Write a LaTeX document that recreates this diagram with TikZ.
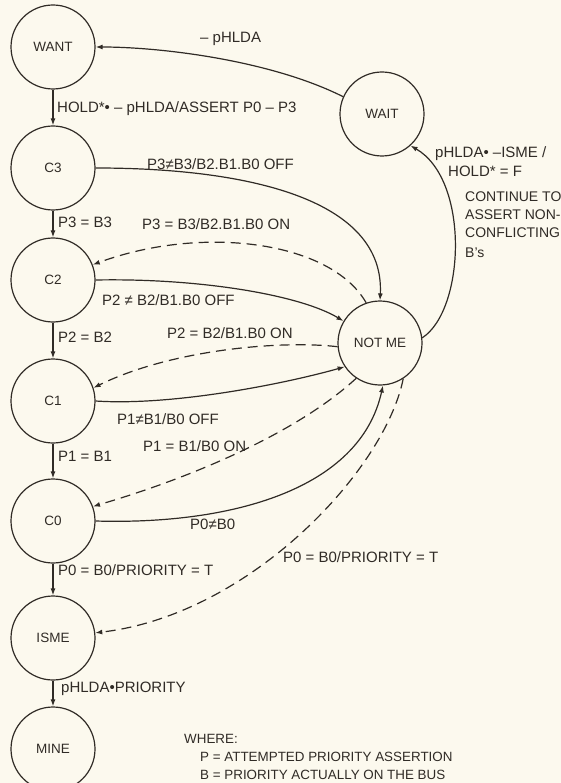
\documentclass[tikz,border=0pt]{standalone}
\usepackage{fontspec}
\setmainfont{Liberation Sans}
\usetikzlibrary{arrows.meta}
\definecolor{bg}{RGB}{252,249,238}
\definecolor{ink}{RGB}{48,43,38}
\begin{document}
\begin{tikzpicture}[x=1pt,y=-1pt,
  state/.style={circle,draw=ink,line width=1.2pt,minimum size=84pt,inner sep=0pt,
    font=\fontsize{13.5}{15}\selectfont,text=ink},
  lbl/.style={inner sep=0pt,anchor=west,text height=10.7pt,text depth=0pt,
    font=\fontsize{15}{17}\selectfont,text=ink},
  sm/.style={lbl,text height=10pt,font=\fontsize{14}{16}\selectfont},
  leg/.style={lbl,text height=9.6pt,font=\fontsize{13.4}{15}\selectfont},
  edge/.style={draw=ink,line width=1.2pt,-{Latex[length=7pt,width=5pt]}},
  dedge/.style={edge,dash pattern=on 10pt off 6pt}]
\fill[bg] (0,0) rectangle (561,783);
\useasboundingbox (0,0) rectangle (561,783);
% states
\node[state] (want) at (53,47) {WANT};
\node[state] (c3) at (53,168) {C3};
\node[state] (c2) at (53,280) {C2};
\node[state] (c1) at (53,401) {C1};
\node[state] (c0) at (53,521) {C0};
\node[state] (isme) at (53,638) {ISME};
\node[state] (mine) at (53,749) {MINE};
\node[state] (wait) at (382,114) {WAIT};
\node[state] (notme) at (380,343) {NOT ME};
% vertical chain
\draw[edge] (want) -- (c3);
\draw[edge] (c3) -- (c2);
\draw[edge] (c2) -- (c1);
\draw[edge] (c1) -- (c0);
\draw[edge] (c0) -- (isme);
\draw[edge] (isme) -- (mine);
% WAIT loop
\draw[edge] (wait.156) .. controls (270,60) and (160,47) .. (want.east);
\draw[edge] (notme.7) .. controls (465,310) and (470,180) .. (wait.-48);
% to NOT ME (solid) and back (dashed)
\draw[edge] (c3.east) .. controls (250,168) and (385,200) .. (notme.north);
\draw[dedge] (notme.109) .. controls (330,240) and (200,225) .. (c2.21);
\draw[edge] (c2.east) .. controls (200,278) and (300,295) .. (notme.149);
\draw[dedge] (notme.185) .. controls (280,340) and (170,350) .. (c1.18);
\draw[edge] (c1.east) .. controls (170,406) and (280,385) .. (notme.214);
\draw[dedge] (notme.236) .. controls (300,430) and (200,475) .. (c0.20);
\draw[edge] (c0.east) .. controls (230,525) and (360,490) .. (notme.274);
\draw[dedge] (notme.303) .. controls (385,470) and (250,615) .. (isme.7);
% labels
\node[lbl] (l1) at (200,37) {– pHLDA};
\node[lbl] (l2) at (57,107) {HOLD*• – pHLDA/ASSERT P0 – P3};
\node[lbl] (l3) at (147,164) {P3≠B3/B2.B1.B0 OFF};
\node[lbl] (l4) at (58,222) {P3 = B3};
\node[lbl] (l5) at (142,224) {P3 = B3/B2.B1.B0 ON};
\node[lbl] (l6) at (102,300) {P2 ≠ B2/B1.B0 OFF};
\node[lbl] (l7) at (58,337) {P2 = B2};
\node[lbl] (l8) at (167,333) {P2 = B2/B1.B0 ON};
\node[lbl] (l9) at (117,419) {P1≠B1/B0 OFF};
\node[lbl] (l10) at (58,456) {P1 = B1};
\node[lbl] (l11) at (143,446) {P1 = B1/B0 ON};
\node[lbl] (l12) at (190,524) {P0≠B0};
\node[lbl] (l13) at (58,570) {P0 = B0/PRIORITY = T};
\node[lbl] (l14) at (283,557) {P0 = B0/PRIORITY = T};
\node[lbl] (l15) at (61,687) {pHLDA•PRIORITY};
\node[lbl] (l16) at (435,152) {pHLDA• –ISME /};
\node[lbl] (l17) at (448,171) {HOLD* = F};
\node[sm] (l18) at (465,197) {CONTINUE TO};
\node[sm] (l19) at (465,215) {ASSERT NON-};
\node[sm] (l20) at (465,233) {CONFLICTING};
\node[sm] (l21) at (465,253) {B's};
\node[leg] (w0) at (184,739) {WHERE:};
\node[leg] (w1) at (200,757) {P = ATTEMPTED PRIORITY ASSERTION};
\node[leg] (w2) at (200,775) {B = PRIORITY ACTUALLY ON THE BUS};
\end{tikzpicture}
\end{document}
